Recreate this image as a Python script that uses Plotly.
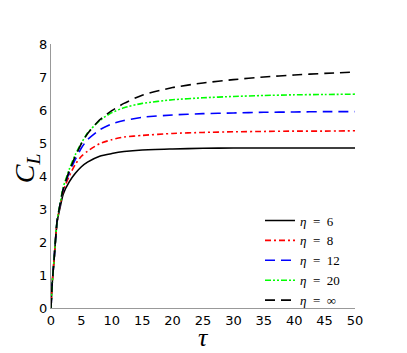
import plotly.graph_objects as go

tau = [0, 0.2, 0.5, 1, 1.5, 2, 3, 4, 5, 6, 8, 10, 12, 15, 20, 25, 30, 35, 40, 45, 50]

cl_eta6 = [0, 0.75, 1.45, 2.6, 3.05, 3.45, 3.82, 4.08, 4.28, 4.42, 4.6, 4.68, 4.74, 4.79, 4.82, 4.84, 4.85, 4.85, 4.85, 4.85, 4.85]
cl_eta8 = [0, 0.75, 1.45, 2.62, 3.12, 3.55, 4.0, 4.35, 4.6, 4.75, 4.98, 5.1, 5.18, 5.23, 5.29, 5.32, 5.34, 5.35, 5.36, 5.36, 5.37]
cl_eta12 = [0, 0.75, 1.45, 2.63, 3.15, 3.6, 4.1, 4.5, 4.85, 5.1, 5.4, 5.58, 5.68, 5.78, 5.85, 5.89, 5.91, 5.93, 5.94, 5.95, 5.95]
cl_eta20 = [0, 0.75, 1.45, 2.64, 3.17, 3.65, 4.2, 4.65, 5.0, 5.3, 5.68, 5.92, 6.07, 6.2, 6.31, 6.37, 6.41, 6.44, 6.46, 6.47, 6.48]
cl_etainf = [0, 0.75, 1.45, 2.63, 3.15, 3.6, 4.15, 4.6, 4.98, 5.28, 5.7, 5.98, 6.2, 6.45, 6.68, 6.82, 6.92, 7.0, 7.06, 7.11, 7.15]

labels = ["6", "8", "12", "20", "∞"]
series = [cl_eta6, cl_eta8, cl_eta12, cl_eta20, cl_etainf]
colors = ["#000000", "#ff0000", "#0000ff", "#00ff00", "#000000"]
dashes = ["solid", "6px,3px,2px,3px", "10px,6px", "6px,2px,2px,2px,2px,2px", "10px,6px"]

fig = go.Figure()
for lab, ys, c, d in zip(labels, series, colors, dashes):
    fig.add_trace(go.Scatter(
        x=tau, y=ys, mode="lines", name=f"<i>η</i>\u2002=\u2002{lab}",
        line=dict(color=c, width=1.6, dash=d, shape="spline", smoothing=0.6),
    ))

tickfont = dict(family="DejaVu Sans", size=13, color="#000000")
fig.update_layout(
    width=407, height=353,
    margin=dict(l=43, r=60, t=36, b=53, autoexpand=False),
    plot_bgcolor="white", paper_bgcolor="white",
    showlegend=True,
    legend=dict(
        x=0.6875, y=0.388, xanchor="left", yanchor="top",
        bgcolor="rgba(0,0,0,0)", borderwidth=0,
        font=dict(family="Liberation Serif", size=13, color="#000000"),
        tracegroupgap=0, itemwidth=30,
    ),
    xaxis=dict(
        range=[0, 50], tickmode="array", tickvals=list(range(0, 51, 5)),
        showgrid=False, zeroline=False, showline=True, linecolor="#999999", linewidth=1,
        ticks="", tickfont=tickfont, automargin=False,
    ),
    yaxis=dict(
        range=[0, 8], tickmode="array", tickvals=list(range(0, 9)),
        showgrid=False, zeroline=False, showline=True, linecolor="#999999", linewidth=1,
        ticks="", tickfont=tickfont, automargin=False,
    ),
    annotations=[
        dict(text="<i>τ</i>", xref="paper", yref="paper", x=0.5, y=-0.112,
             xanchor="center", yanchor="middle", showarrow=False,
             font=dict(family="Liberation Serif", size=26, color="#000000")),
        dict(text="<i>C</i><sub><i>L</i></sub>", xref="paper", yref="paper", x=-0.082, y=0.53,
             xanchor="center", yanchor="middle", showarrow=False, textangle=-90,
             font=dict(family="Liberation Serif", size=28, color="#000000")),
    ],
)

fig.write_html("out.html")
